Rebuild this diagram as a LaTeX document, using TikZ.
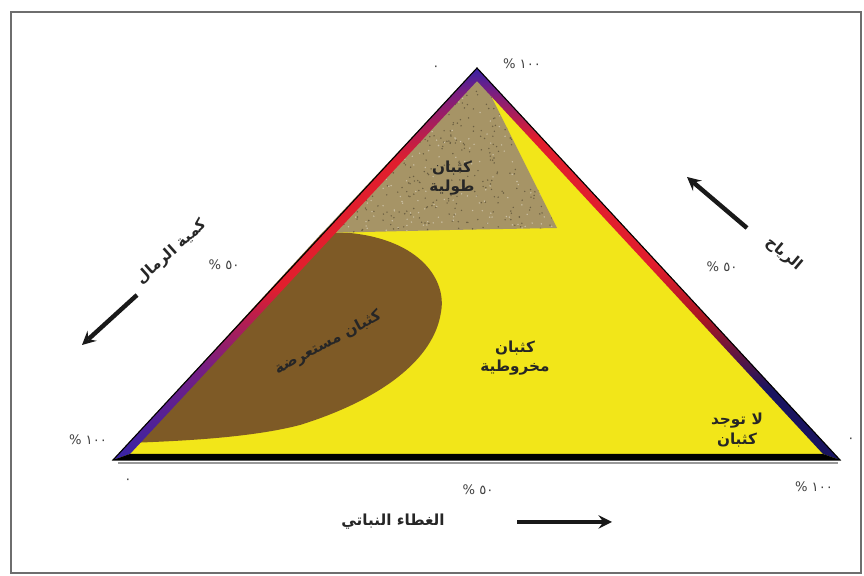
\documentclass[tikz,border=0pt]{standalone}
\usepackage{fontspec}
\newfontfamily\arabicfont[Script=Arabic]{DejaVu Sans}
\TeXXeTstate=1
\definecolor{duneyellow}{RGB}{242,230,25}
\definecolor{dunetan}{RGB}{166,148,102}
\definecolor{dunebrown}{RGB}{126,90,38}
\definecolor{edgeblue}{RGB}{55,35,165}
\definecolor{edgepurple}{RGB}{120,30,130}
\definecolor{edgered}{RGB}{225,30,45}
\definecolor{edgenavy}{RGB}{25,20,95}
\definecolor{framegray}{RGB}{110,110,110}
% colour runs along the two slopes
\pgfdeclareverticalshading{westslope}{100bp}{color(0bp)=(edgeblue); color(25bp)=(edgeblue); color(37bp)=(edgepurple); color(47bp)=(edgered); color(63bp)=(edgered); color(72bp)=(edgepurple); color(75bp)=(edgeblue); color(100bp)=(edgeblue)}
\pgfdeclareverticalshading{eastslope}{100bp}{color(0bp)=(edgenavy); color(25bp)=(edgenavy); color(34bp)=(edgenavy); color(43bp)=(edgered!75!black); color(50bp)=(edgered); color(66bp)=(edgered); color(72bp)=(edgepurple); color(75bp)=(edgeblue); color(100bp)=(edgeblue)}
\tikzset{
  dunelabel/.style={font=\arabicfont\bfseries\fontsize{11}{14}\selectfont, text=black!85, align=center, inner sep=1pt},
  axislabel/.style={font=\arabicfont\bfseries\fontsize{11}{13}\selectfont, text=black!85, inner sep=1pt},
  pctlabel/.style={font=\arabicfont\fontsize{9.5}{11}\selectfont, text=black!75, inner sep=1pt},
  bigarrow/.style={line width=3.2pt, -stealth, black!90},
}

\begin{document}
\begin{tikzpicture}[x=0.01in,y=-0.01in]
\useasboundingbox (0,0) rectangle (864,576);
% frame
\draw[framegray, line width=1.5pt] (11,12) rectangle (861,573);
% corners of the triangle
\coordinate (apex) at (477,68);
\coordinate (west) at (113,460);
\coordinate (east) at (840,460);
\coordinate (apexin) at (477,81);
\coordinate (westin) at (130,454);
\coordinate (eastin) at (823,454);
% yellow body
\fill[duneyellow] (apex) -- (west) -- (east) -- cycle;
% tan wedge, sand texture
\fill[dunetan] (apex) -- (557,228) -- (450,230) -- (322,233) -- cycle;
\begin{scope}
\clip (apex) -- (557,228) -- (450,230) -- (322,233) -- cycle;
\pgfmathsetseed{7}
\foreach \i in {1,...,500}
  \fill[dunetan!65!black] ({320+240*rnd},{68+167*rnd}) circle (0.8);
\foreach \i in {1,...,300}
  \fill[dunetan!60!white] ({320+240*rnd},{68+167*rnd}) circle (0.8);
\end{scope}
% brown body
\fill[dunebrown] (322,233) -- (350,233) .. controls (420,240) and (447,280) .. (441,312)
  .. controls (434,360) and (380,400) .. (300,425)
  .. controls (250,438) and (180,441) .. (129,443) -- cycle;
% edges
\shade[shading=westslope] (apex) -- (west) -- (westin) -- (apexin) -- cycle;
\shade[shading=eastslope] (apex) -- (east) -- (eastin) -- (apexin) -- cycle;
\fill[black] (west) -- (east) -- (eastin) -- (westin) -- cycle;
\draw[black!40, line width=1pt] (118,463) -- (838,463);
\draw[black, line width=0.8pt] (apex) -- (west) -- (east) -- cycle;
% dune names
\node[dunelabel] (longdunes) at (452,178) {\beginR كثبان\endR\\\beginR طولية\endR};
\node[dunelabel, rotate=28] (transdunes) at (328,343) {\beginR كثبان مستعرضة\endR};
\node[dunelabel] (conedunes) at (515,358) {\beginR كثبان\endR\\\beginR مخروطية\endR};
\node[dunelabel] (nodunes) at (737,430) {\beginR لا توجد\endR\\\beginR كثبان\endR};
% percentages
\node[pctlabel] (topzero) at (436,68) {٠};
\node[pctlabel] (toppct) at (522,64) {\% ١٠٠};
\node[pctlabel] (westpct) at (88,440) {\% ١٠٠};
\node[pctlabel] (westzero) at (128,481) {٠};
\node[pctlabel] (eastzero) at (851,440) {٠};
\node[pctlabel] (eastpct) at (814,487) {\% ١٠٠};
\node[pctlabel] (basepct) at (478,490) {\% ٥٠};
\node[pctlabel] (sandpct) at (224,265) {\% ٥٠};
\node[pctlabel] (windpct) at (722,267) {\% ٥٠};
% axis names
\node[axislabel, rotate=42] (sandname) at (172,252) {\beginR كمية الرمال\endR};
\node[axislabel, rotate=-40] (windname) at (784,254) {\beginR الرياح\endR};
\node[axislabel] (covername) at (393,522) {\beginR الغطاء النباتي\endR};
% arrows
\coordinate (sandtail) at (137,295);
\coordinate (sandhead) at (82,345);
\coordinate (windtail) at (747,228);
\coordinate (windhead) at (687,177);
\coordinate (covertail) at (517,522);
\coordinate (coverhead) at (612,522);
\draw[bigarrow] (sandtail) -- (sandhead);
\draw[bigarrow] (windtail) -- (windhead);
\draw[bigarrow] (covertail) -- (coverhead);
\end{tikzpicture}
\end{document}
